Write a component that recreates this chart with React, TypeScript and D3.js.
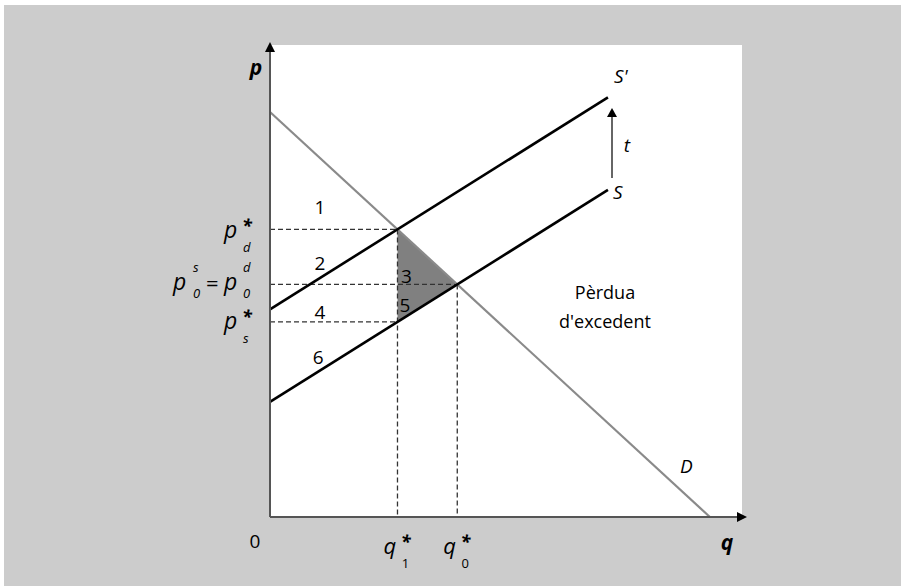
import React from "react";
import * as d3 from "d3";

// Model parameters (in plot units)
const demandIntercept = [8.58]; // price at q = 0
const demandQIntercept = [9.32]; // quantity at p = 0
const supplyIntercept = [2.44]; // price at q = 0
const supplyEndQ = [7.16];
const supplySlope = [0.627];
const tax = [1.96];
const areaLabels = ["1", "2", "3", "4", "5", "6"];

const W = 901;
const H = 586;
const FONT = "'Open Sans', 'Noto Sans', sans-serif";

export default function App() {
  const x = d3.scaleLinear().domain([0, 10]).range([270, 742]);
  const y = d3.scaleLinear().domain([0, 10]).range([517, 45]);

  const a = demandIntercept[0];
  const bD = a / demandQIntercept[0];
  const c = supplyIntercept[0];
  const s = supplySlope[0];
  const t = tax[0];
  const qEnd = supplyEndQ[0];

  const demand = (q: number) => a - bD * q;
  const supply = (q: number) => c + s * q;
  const supplyT = (q: number) => c + t + s * q;

  const q0 = (a - c) / (s + bD);
  const p0 = supply(q0);
  const q1 = (a - c - t) / (s + bD);
  const pd = supplyT(q1);
  const ps = supply(q1);

  const line = d3
    .line<[number, number]>()
    .x((d) => x(d[0]))
    .y((d) => y(d[1]));

  const dash = "5,3";
  const dashColor = "#333";

  const tri = line([
    [q1, pd],
    [q0, p0],
    [q1, ps],
    [q1, pd],
  ]) as string;

  const areaPos: [number, number][] = [
    [1.06, 6.57],
    [1.06, 5.38],
    [2.89, 5.1],
    [1.06, 4.34],
    [2.86, 4.5],
    [1.02, 3.39],
  ];

  const italic = { fontStyle: "italic" as const };

  // label with superscript star and subscript, as one text element
  const starLabel = (
    key: string,
    letter: string,
    lx: number,
    ly: number,
    sub: string,
    size: number,
    subItalic: boolean
  ) => (
    <text key={key} x={lx} y={ly} fontSize={size} style={italic}>
      {letter}
      <tspan x={lx + size * 0.78} y={ly - 6} fontSize={18} fontWeight="bold">
        *
      </tspan>
      <tspan
        x={lx + size * 0.78 + 1}
        y={ly + 14}
        fontSize={13}
        fontStyle={subItalic ? "italic" : "normal"}
      >
        {sub}
      </tspan>
    </text>
  );

  return (
    <svg
      width={W}
      height={H}
      style={{ position: "absolute", left: 0, top: 0, fontFamily: FONT }}
    >
      <rect x={0} y={0} width={W} height={H} fill="#fff" />
      <rect x={4} y={5} width={W - 4} height={H - 5} fill="#cccccc" />
      <rect
        x={x(0)}
        y={y(10)}
        width={x(10) - x(0)}
        height={y(0) - y(10)}
        fill="#fff"
      />

      {/* shaded deadweight loss */}
      <path d={tri} fill="#808080" />

      {/* dashed guides */}
      {[pd, p0, ps].map((p, i) => (
        <line
          key={"h" + i}
          x1={x(0)}
          x2={x(i === 1 ? q0 : q1)}
          y1={y(p)}
          y2={y(p)}
          stroke={dashColor}
          strokeWidth={1.3}
          strokeDasharray={dash}
        />
      ))}
      <line
        x1={x(q1)}
        x2={x(q1)}
        y1={y(pd)}
        y2={y(0)}
        stroke={dashColor}
        strokeWidth={1.3}
        strokeDasharray={dash}
      />
      <line
        x1={x(q0)}
        x2={x(q0)}
        y1={y(p0)}
        y2={y(0)}
        stroke={dashColor}
        strokeWidth={1.3}
        strokeDasharray={dash}
      />

      {/* demand */}
      <path
        d={line([
          [0, demand(0)],
          [demandQIntercept[0], 0],
        ]) as string}
        stroke="#8a8a8a"
        strokeWidth={2.2}
        fill="none"
      />
      {/* supply */}
      <path
        d={line([
          [0, supply(0)],
          [qEnd, supply(qEnd)],
        ]) as string}
        stroke="#000"
        strokeWidth={2.6}
        fill="none"
      />
      <path
        d={line([
          [0, supplyT(0)],
          [qEnd, supplyT(qEnd)],
        ]) as string}
        stroke="#000"
        strokeWidth={2.6}
        fill="none"
      />

      {/* axes */}
      <line x1={x(0)} y1={y(0)} x2={x(0)} y2={46} stroke="#555" strokeWidth={2} />
      <path d={`M${x(0) - 5},${52} L${x(0)},${42} L${x(0) + 5},${52} z`} fill="#000" />
      <path
        d={`M${x(0)},${y(0)} L${738},${y(0)}`}
        stroke="#555"
        strokeWidth={2}
      />
      <path d={`M${737},${y(0) - 5} L${747},${y(0)} L${737},${y(0) + 5} z`} fill="#000" />

      {/* tax arrow */}
      <line x1={612} y1={178} x2={612} y2={115} stroke="#333" strokeWidth={1.5} />
      <path d="M607,117 L612,108 L617,117 z" fill="#000" />
      <text x={627} y={152} fontSize={19} textAnchor="middle" style={italic}>
        t
      </text>

      {/* curve labels */}
      <text x={614} y={83} fontSize={19} style={italic}>
        S'
      </text>
      <text x={613} y={199} fontSize={19} style={italic}>
        S
      </text>
      <text x={680} y={473} fontSize={19} style={italic}>
        D
      </text>

      {/* axis labels */}
      <text x={256} y={75} fontSize={21} fontWeight="bold" textAnchor="middle" style={italic}>
        p
      </text>
      <text x={727} y={550} fontSize={21} fontWeight="bold" textAnchor="middle" style={italic}>
        q
      </text>
      <text x={255} y={548} fontSize={19} textAnchor="middle">
        0
      </text>

      {/* area numbers */}
      {areaLabels.map((l, i) => (
        <text
          key={l}
          x={x(areaPos[i][0])}
          y={y(areaPos[i][1]) + 7}
          fontSize={19}
          textAnchor="middle"
        >
          {l}
        </text>
      ))}

      {/* Pèrdua d'excedent */}
      <text x={605} y={299} fontSize={18} textAnchor="middle">
        Pèrdua
      </text>
      <text x={605} y={328} fontSize={18} textAnchor="middle">
        d'excedent
      </text>

      {/* q labels */}
      {starLabel("q1", "q", x(q1) - 14, y(0) + 37, "1", 22, false)}
      {starLabel("q0", "q", x(q0) - 14, y(0) + 37, "0", 22, false)}

      {/* p labels */}
      {starLabel("pd", "p", 224, y(pd) + 9, "d", 23, true)}
      {starLabel("ps", "p", 224, y(ps) + 7, "s", 23, true)}

      <text x={173} y={y(p0) + 6} fontSize={23} style={italic}>
        p
        <tspan x={193} y={y(p0) - 12} fontSize={13}>s</tspan>
        <tspan x={193} y={y(p0) + 14} fontSize={13}>0</tspan>
        <tspan x={206} y={y(p0) + 7} fontSize={22} fontStyle="normal">=</tspan>
        <tspan x={224} y={y(p0) + 6}>p</tspan>
        <tspan x={243} y={y(p0) - 12} fontSize={13}>d</tspan>
        <tspan x={243} y={y(p0) + 14} fontSize={13}>0</tspan>
      </text>
    </svg>
  );
}
